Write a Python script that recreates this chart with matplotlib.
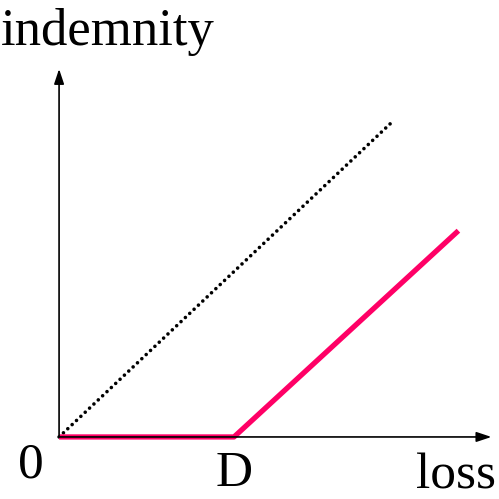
import matplotlib.pyplot as plt

plt.rcParams['font.family'] = ['Liberation Serif', 'DejaVu Serif']

# data (arbitrary units)
D = 5.3
dotted_loss = [0, 10.15]
dotted_indemnity = [0, 9.6]
pay_loss = [0, D, 12.1]
pay_indemnity = [0, 0, 6.25]

fig = plt.figure(figsize=(4.99, 4.99), dpi=100)
ax = fig.add_axes([0, 0, 1, 1])
ax.set_xlim(-1.79, 13.33)
ax.set_ylim(-1.88, 13.24)
ax.axis('off')

# axes with arrows
ax.annotate('', xy=(13.1, 0), xytext=(0, 0),
            arrowprops=dict(arrowstyle='-|>,head_length=0.9,head_width=0.3',
                            color='black', lw=1.2, shrinkA=0, shrinkB=0))
ax.annotate('', xy=(0, 11.15), xytext=(0, 0),
            arrowprops=dict(arrowstyle='-|>,head_length=0.9,head_width=0.3',
                            color='black', lw=1.2, shrinkA=0, shrinkB=0))

ax.plot(dotted_loss, dotted_indemnity, color='black', lw=2.6, linestyle=(0, (0.01, 1.65)),
        dash_capstyle='round')
ax.plot(pay_loss, pay_indemnity, color='#ff0066', lw=3.8, solid_capstyle='butt')

ax.text(-1.75, 13.0, 'indemnity', fontsize=38, ha='left', va='top')
ax.text(-0.85, -0.15, '0', fontsize=37, ha='center', va='top')
ax.text(D, -0.4, 'D', fontsize=37, ha='center', va='top')
ax.text(13.25, -0.5, 'loss', fontsize=37, ha='right', va='top')

fig.savefig('out.png', dpi=100)
